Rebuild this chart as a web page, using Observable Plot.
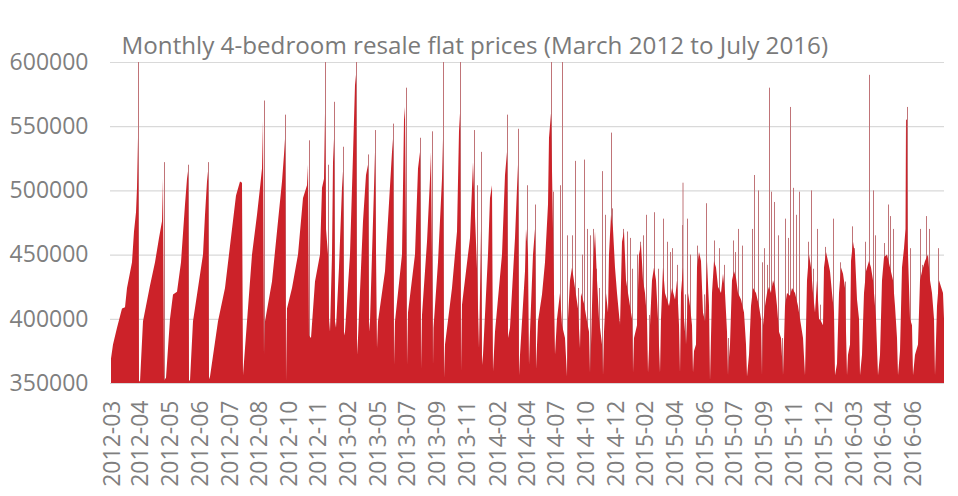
<!DOCTYPE html>
<html><head><meta charset="utf-8">
<script src="https://cdn.jsdelivr.net/npm/d3@7"></script>
<script src="https://cdn.jsdelivr.net/npm/@observablehq/plot@0.6"></script>
<style>
html,body{margin:0;padding:0;background:#fff;}
#chart{width:958px;height:496px;}
</style></head><body><div id="chart"></div>
<script>
const title = "Monthly 4-bedroom resale flat prices (March 2012 to July 2016)";

// x-axis category labels and the transaction index where each label sits
const tickLabels = ["2012-03","2012-04","2012-05","2012-06","2012-07","2012-08","2012-10","2012-11","2013-02","2013-05","2013-07","2013-09","2013-11","2014-02","2014-04","2014-07","2014-10","2014-12","2015-02","2015-04","2015-06","2015-07","2015-09","2015-11","2015-12","2016-03","2016-04","2016-06"];
const tickIndex = [2,30,60,90,120,149,179,208,238,268,297,327,357,388,417,446,476,506,535,565,595,624,654,684,714,744,773,803];

const yTicks = [350000,400000,450000,500000,550000,600000];

// Solid profile of the bars (transaction index, price in thousands)
const bodyIndex = [
1,3,7,12,15,17,22,24,26,27,28,29,
30,33,40,45,49,52,53,54,
56,60,63,67,71,75,77,78,79,
80,83,88,93,95,97,98,99,
100,108,115,122,126,130,132,133,
135,142,147,150,152,153,154,
155,162,168,172,174,175,176,
177,182,188,193,197,198,199,
201,205,210,212,214,215,216,218,219,220,
222,223,224,225,
226,229,232,233,234,
235,240,243,245,246,247,
248,253,256,258,259,
260,264,265,267,
268,275,282,283,284,
285,292,294,295,297,
298,305,308,310,311,
312,317,320,321,323,
323.5,328,332,333,334,
335,342,347,349,350,351,
352,360,363,365,367,369,370,371,372,
373,378,380,382,383,
385,392,395,397,398,
400,405,407,408,409,
410,415,416,418,419,
420,423,425,426,
428,432,435,438,439,441,443,444,445,447,450,452,
455,457,458,460,462,465,468,470,471,474,477,479,480,481,483,485,487,489,492,493,494,496,498,499,501,503,505,507,510,512,514,516,518,520,522,523,524,527,529,531,533,535,537,538,540,542,544,546,548,550,551,553,555,557,559,562,565,567,569,570,571,573,574,576,578,580,582,583,584,586,587,589,591,593,595,597,599,600,602,604,606,608,611,613,615,617,618,619,620,622,624,626,628,631,634,636,637,639,641,643,646,649,651,652,653,655,657,659,661,663,665,667,669,671,673,675,677,680,682,685,688,691,693,695,697,699,701,703,705,707,709,711,713,714,716,718,720,722,724,725,727,729,731,733,735,737,738,740,741,743,745,747,749,750,752,754,756,759,761,763,766,768,770,772,774,777,780,783,785,787,788,790,792,794,795.5,796,796.7,797.5,798,800,802,803,805,808,810,812,815,818,820,822,824,825,827,829,831,833,834
];
const bodyPriceK = [
369,380,393,408,409,424,444,468,483,502,541,352,
351,398,426,444,463,476,509,352,
354,400,419,421,444,489,509,515,352,
352,398,424,450,481,507,515,353,
355,398,424,470,496,507,506,356,
377,450,481,502,517,554,372,
398,429,476,507,528,540,351,
408,424,450,494,504,520,387,
385,429,450,502,509,560,470,450,400,390,
450,522,540,398,
393,440,502,515,387,
390,450,528,582,590,372,
385,476,512,520,390,
398,502,530,377,
398,437,530,540,364,
398,450,555,565,364,
405,450,517,530,361,
403,460,509,530,364,
393,444,509,540,354,
380,424,468,546,560,359,
411,463,522,480,439,377,420,470,364,
372,450,494,504,359,
390,450,512,530,385,
393,463,502,520,356,
372,437,470,450,364,
390,450,470,361,
398,419,444,489,541,560,470,420,372,400,420,395,
385,355,400,430,440,424,408,377,420,412,398,390,358,380,440,468,430,400,380,356,390,420,405,450,481,470,440,420,395,460,468,430,420,410,400,358,385,395,450,458,430,420,400,358,395,430,440,430,400,358,400,440,420,415,410,424,415,430,395,358,420,440,400,380,420,410,395,358,375,380,440,452,445,405,398,445,410,352,420,445,440,425,420,435,420,390,356,370,380,430,437,432,420,415,405,380,355,372,410,424,420,410,400,356,395,410,420,425,420,430,425,410,390,385,356,410,420,418,424,420,410,395,385,356,430,450,440,420,405,430,400,398,395,440,452,445,437,420,405,356,365,420,440,435,424,356,372,380,445,460,450,415,400,356,372,420,437,445,440,430,400,356,372,430,448,450,440,430,410,385,356,375,440,455,470,555,555,460,450,400,395,356,372,380,430,437,445,450,430,420,400,356,410,430,425,420,400
];

// Thin isolated tall transactions (transaction index, price in thousands)
const spikeIndex = [
28,54,78,98,154,175,199,215,218,224,233,246,258,265,283,296,310,322,333,350,364,367,371,397,408,417,425,441,443,450,452,
457,462,465,468,472,474,477,480,483,486,489,492,495,501,502,504,509,513,517,520,522,527,530,533,536,539,542,544,548,553,557,560,562,567,572,572.5,575,577,580,587,594,596,604,609,614,618,623,625,628,632,642,644,648,652,654,657,659,661,664,668,672,675,678,680,683,686,689,698,701,703,707,710,715,723,730,735,742,744,755,759,763,765,774,778,780,783,796,797,800,810,812,816,819,828
];
const spikePriceK = [
600,522,520,522,570,559,539,600,520,569,534,600,528,547,552,580,541,546,600,600,547,504,530,559,548,504,489,600,499,504,600,
465,465,523,424,450,524,470,465,470,439,424,515,481,545,486,439,398,470,468,463,439,450,460,465,481,403,424,483,439,478,460,452,455,442,473,506,419,478,450,457,419,490,461,455,442,385,461,452,470,457,470,512,500,444,455,442,580,499,491,465,385,478,463,565,502,481,499,460,500,439,470,411,456,478,444,429,472,455,460,590,500,465,459,489,480,470,555,565,455,470,442,480,470,455
];

const body = bodyIndex.map((x, i) => ({x, price: bodyPriceK[i] * 1000}));
const spikes = spikeIndex.map((x, i) => ({x, price: spikePriceK[i] * 1000}));

const plot = Plot.plot({
  width: 958, height: 496,
  marginLeft: 110, marginRight: 14, marginTop: 62, marginBottom: 113,
  style: {fontFamily: "'Open Sans', sans-serif", color: "#7f7f7f", background: "#ffffff", overflow: "visible"},
  x: {domain: [0, 834], axis: null},
  y: {domain: [350000, 600000], axis: null},
  marks: [
    Plot.gridY(yTicks, {stroke: "#d9d9d9", strokeOpacity: 1, strokeWidth: 1.2}),
    Plot.ruleX(spikes, {x: "x", y1: () => 350000, y2: "price", stroke: "#c07478", strokeWidth: 1}),
    Plot.area(body, {x1: "x", y1: () => 350000, y2: "price", fill: "#cc2229"}),
    Plot.axisY(yTicks, {label: null, tickSize: 0, tickPadding: 22, fontSize: 23, tickFormat: d => String(d), fill: "#7f7f7f"}),
    Plot.axisX(tickIndex, {label: null, tickSize: 0, tickPadding: 17, fontSize: 23, tickRotate: -90, fill: "#7f7f7f",
      tickFormat: d => tickLabels[tickIndex.indexOf(d)]}),
    Plot.text([title], {frameAnchor: "top-left", dx: 11, dy: -26, textAnchor: "start", fontSize: 24.2, fill: "#7a7a7a"})
  ]
});
document.getElementById("chart").appendChild(plot);
</script>
</body></html>
